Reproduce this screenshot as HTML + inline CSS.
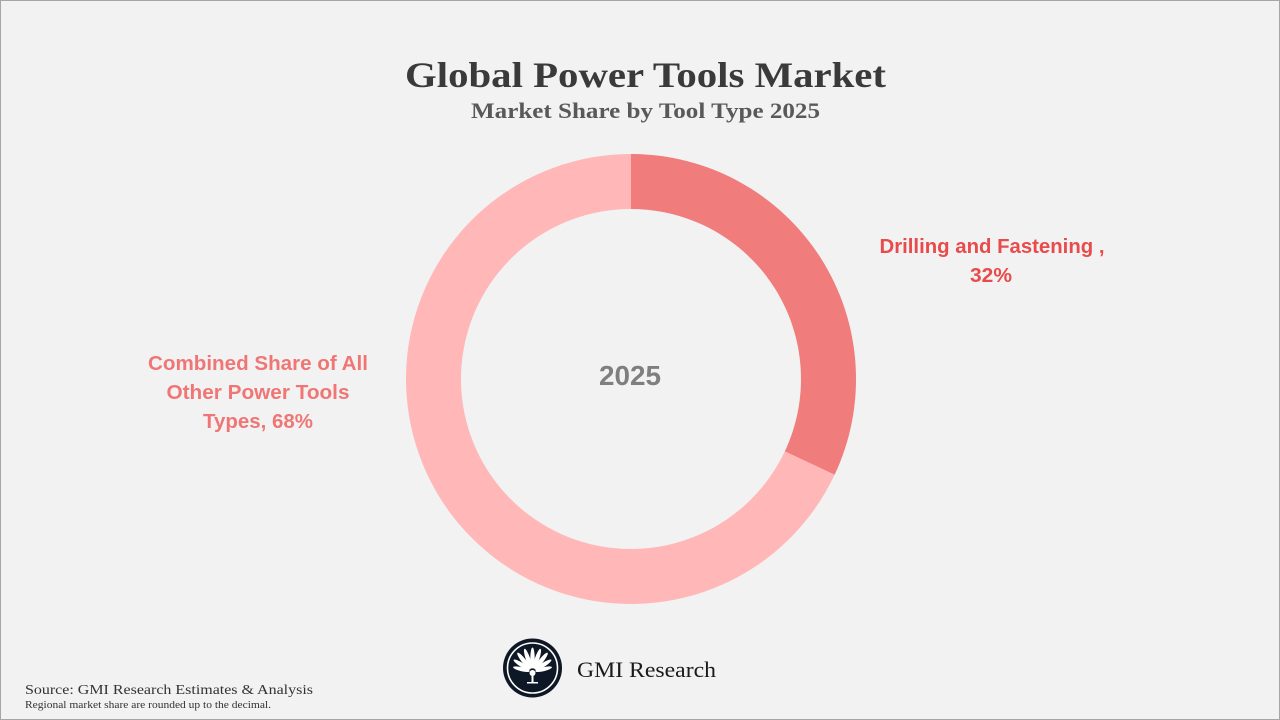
<!DOCTYPE html>
<html>
<head>
<meta charset="utf-8">
<style>
html,body{margin:0;padding:0;background:#F2F2F2;}
svg{display:block;}
</style>
</head>
<body>
<svg width="1280" height="720" viewBox="0 0 1280 720" xmlns="http://www.w3.org/2000/svg">
  <rect x="0" y="0" width="1280" height="720" fill="#F2F2F2"/>
  <rect x="0.5" y="0.5" width="1279" height="719" fill="none" stroke="#A6A6A6" stroke-width="1"/>

  <!-- Titles -->
  <text x="645.5" y="87" text-anchor="middle" font-family="'Liberation Serif', serif" font-weight="bold" font-size="36" fill="#3A3A3A" textLength="481" lengthAdjust="spacingAndGlyphs">Global Power Tools Market</text>
  <text x="645.5" y="118" text-anchor="middle" font-family="'Liberation Serif', serif" font-weight="bold" font-size="22" fill="#595959" textLength="349" lengthAdjust="spacingAndGlyphs">Market Share by Tool Type 2025</text>

  <!-- Donut -->
  <path d="M631,154 A225,225 0 0 1 834.6,474.8 L784.8,451.4 A170,170 0 0 0 631,209 Z" fill="#F17C7C"/>
  <path d="M834.6,474.8 A225,225 0 1 1 631,154 L631,209 A170,170 0 1 0 784.8,451.4 Z" fill="#FFB7B7"/>

  <text x="630" y="385" text-anchor="middle" font-family="'Liberation Sans', sans-serif" font-weight="bold" font-size="28" fill="#7F7F7F" textLength="62" lengthAdjust="spacingAndGlyphs">2025</text>

  <!-- Labels -->
  <text x="992" y="253" text-anchor="middle" font-family="'Liberation Sans', sans-serif" font-weight="bold" font-size="20" fill="#E84B4B" textLength="225" lengthAdjust="spacingAndGlyphs">Drilling and Fastening ,</text>
  <text x="991" y="282" text-anchor="middle" font-family="'Liberation Sans', sans-serif" font-weight="bold" font-size="20" fill="#E84B4B" textLength="42" lengthAdjust="spacingAndGlyphs">32%</text>

  <text x="258" y="370" text-anchor="middle" font-family="'Liberation Sans', sans-serif" font-weight="bold" font-size="20" fill="#F07676" textLength="220" lengthAdjust="spacingAndGlyphs">Combined Share of All</text>
  <text x="258" y="399" text-anchor="middle" font-family="'Liberation Sans', sans-serif" font-weight="bold" font-size="20" fill="#F07676" textLength="183" lengthAdjust="spacingAndGlyphs">Other Power Tools</text>
  <text x="258" y="428" text-anchor="middle" font-family="'Liberation Sans', sans-serif" font-weight="bold" font-size="20" fill="#F07676" textLength="110" lengthAdjust="spacingAndGlyphs">Types, 68%</text>

  <!-- Logo -->
  <g>
    <circle cx="532.5" cy="668" r="29.5" fill="#0E1726"/>
    <circle cx="532.5" cy="668" r="25" fill="none" stroke="#FFFFFF" stroke-width="1.6"/>
    <g fill="#FFFFFF">
      <ellipse cx="532.5" cy="658" rx="2.2" ry="10.5" transform="rotate(0 532.5 672)"/>
      <ellipse cx="532.5" cy="658" rx="2.2" ry="10.5" transform="rotate(-19 532.5 672)"/>
      <ellipse cx="532.5" cy="658" rx="2.2" ry="10.5" transform="rotate(19 532.5 672)"/>
      <ellipse cx="532.5" cy="658" rx="2.2" ry="10.5" transform="rotate(-38 532.5 672)"/>
      <ellipse cx="532.5" cy="658" rx="2.2" ry="10.5" transform="rotate(38 532.5 672)"/>
      <ellipse cx="532.5" cy="659" rx="2.1" ry="9.5" transform="rotate(-57 532.5 672)"/>
      <ellipse cx="532.5" cy="659" rx="2.1" ry="9.5" transform="rotate(57 532.5 672)"/>
      <ellipse cx="532.5" cy="660.5" rx="2" ry="8.5" transform="rotate(-76 532.5 672)"/>
      <ellipse cx="532.5" cy="660.5" rx="2" ry="8.5" transform="rotate(76 532.5 672)"/>
      <circle cx="532.5" cy="673" r="3"/>
      <rect x="531.5" y="673" width="2" height="10"/>
      <rect x="527" y="682" width="11" height="1.5"/>
    </g>
  </g>
  <text x="577" y="677" font-family="'Liberation Serif', serif" font-size="22" fill="#1A1A1A" textLength="139" lengthAdjust="spacingAndGlyphs">GMI Research</text>

  <!-- Source -->
  <text x="25" y="694" font-family="'Liberation Serif', serif" font-size="13.5" fill="#333333" textLength="288" lengthAdjust="spacingAndGlyphs">Source: GMI Research Estimates &amp; Analysis</text>
  <text x="25" y="708" font-family="'Liberation Serif', serif" font-size="10" fill="#333333" textLength="246" lengthAdjust="spacingAndGlyphs">Regional market share are rounded up to the decimal.</text>
</svg>
</body>
</html>
